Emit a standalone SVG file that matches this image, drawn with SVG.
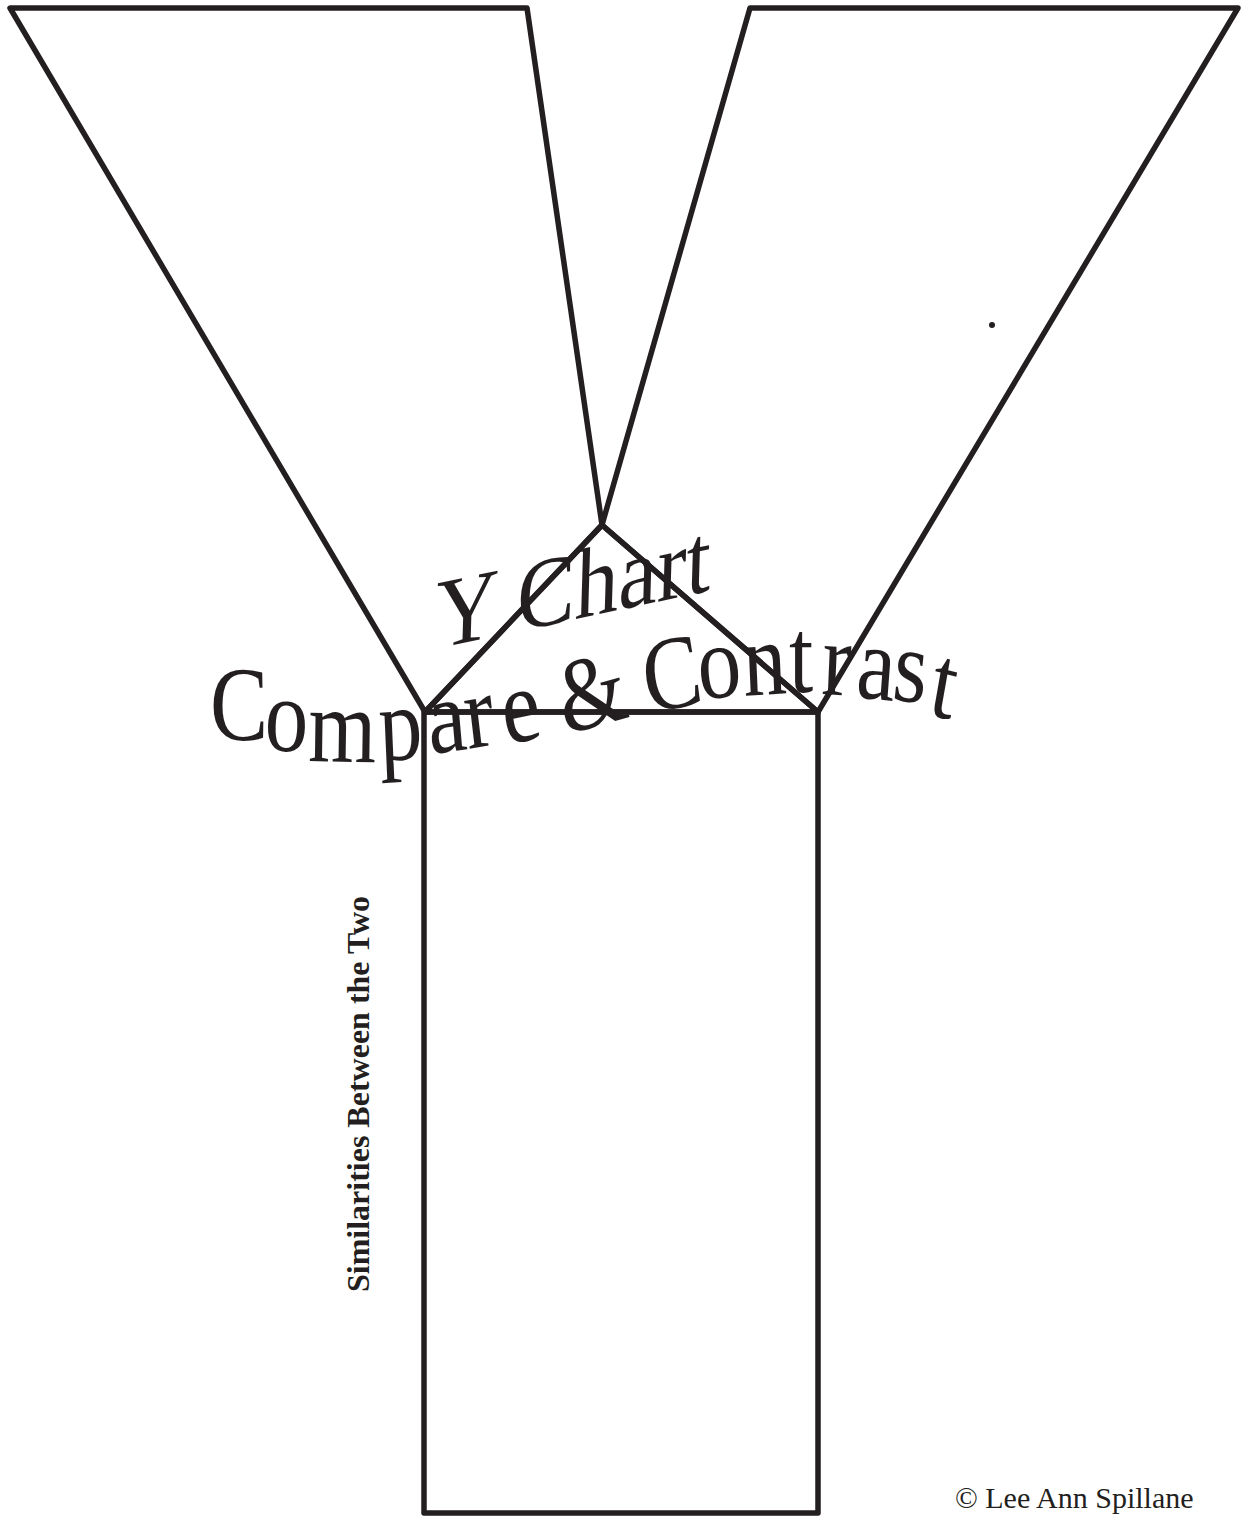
<svg xmlns="http://www.w3.org/2000/svg" width="1247" height="1517" viewBox="0 0 1247 1517">
<style>
.shape{fill:none;stroke:#231f20;stroke-width:5.5;stroke-linejoin:round;stroke-linecap:round}
.serif{font-family:"Liberation Serif","Times New Roman",serif;fill:#231f20}
</style>
<rect width="1247" height="1517" fill="#ffffff"/>
<g id="left-arm"><polygon class="shape" points="10,8 527,8 602,525 425,712"/></g>
<g id="right-arm"><polygon class="shape" points="750,8 1238,8 818,712 602,525"/></g>
<g id="center-triangle"><polygon class="shape" points="602,525 818,712 425,712"/></g>
<g id="stem"><rect class="shape" x="424" y="712" width="394" height="801"/></g>
<g id="connectors"></g>
<g id="title">
<text class="serif" font-size="100" transform="matrix(0.87,-0.185,-0.03,1,435,649)">Y Chart</text>
<text class="serif" font-size="105" transform="scale(0.83,1)" x="253.0 318.1 371.1 457.8 518.1 563.9 609.6 656.6 680.7 759.0 780.7 843.4 896.4 950.6 989.2 1030.1 1073.5 1116.9" y="740 750 761 761 754 749 745 738 735 720 714 700 696 692 694 697 699 714" rotate="0 2 1 -3 -6 -8 -10 -12 -13 -12 -10 -6 -3 0 3 5 7 12">Compare &amp; Contrast</text>
</g>
<g id="similarities-label">
<text class="serif" font-size="32" font-weight="bold" text-anchor="middle" transform="translate(369,1094) rotate(-90)">Similarities Between the Two</text>
</g>
<g id="dot"><circle cx="992" cy="325" r="3" fill="#231f20"/></g>
<g id="copyright">
<text class="serif" font-size="30" x="955" y="1508">© Lee Ann Spillane</text>
</g>
</svg>
